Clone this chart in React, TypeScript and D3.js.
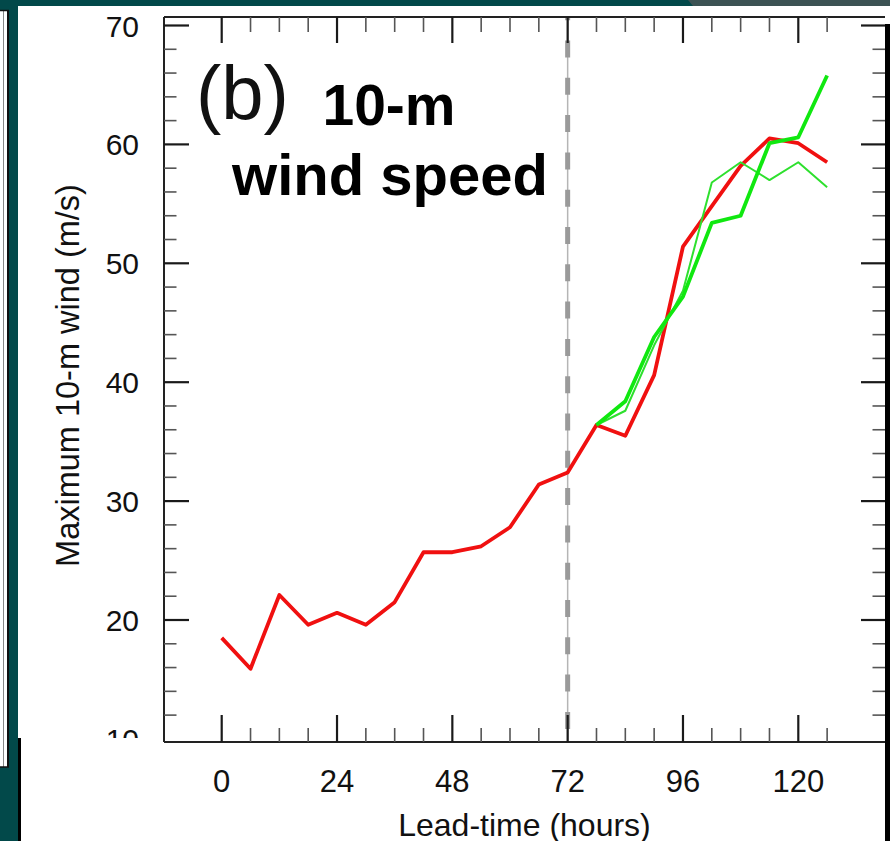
import React from "react";
import * as d3 from "d3";

// Lead time (hours) for the control (red) run
const leadHours = [0, 6, 12, 18, 24, 30, 36, 42, 48, 54, 60, 66, 72, 78, 84, 90, 96, 102, 108, 114, 120, 126];
const redValues = [18.5, 15.9, 22.1, 19.6, 20.6, 19.6, 21.5, 25.7, 25.7, 26.2, 27.8, 31.4, 32.4, 36.4, 35.5, 40.6, 51.4, 54.8, 58.2, 60.5, 60.1, 58.5];

// Green experiments start at 78 h
const greenHours = [78, 84, 90, 96, 102, 108, 114, 120, 126];
const greenThick = [36.4, 38.4, 43.8, 47.2, 53.4, 54.0, 60.1, 60.6, 65.8];
const greenThin = [36.4, 37.6, 43.1, 47.7, 56.8, 58.5, 57.0, 58.5, 56.4];

const xTickLabels = [0, 24, 48, 72, 96, 120];
const yTickLabels = [10, 20, 30, 40, 50, 60, 70];
const splitHour = 72;

const FONT = "'Liberation Sans', Arial, Helvetica, sans-serif";

export default function App() {
  const W = 890;
  const H = 841;
  const left = 164;
  const right = 885;
  const top = 17;
  const bottom = 742;

  const x = d3.scaleLinear().domain([0, 120]).range([221.7, 798.3]);
  const y = d3.scaleLinear().domain([20, 70]).range([620, 25.5]);

  const xMinor = d3.range(0, 127, 6).filter((h) => h % 24 !== 0);
  const yMinor = d3.range(12, 70, 2).filter((v) => v % 10 !== 0);
  const yMajor = yTickLabels.filter((v) => v > 10);

  const line = d3
    .line<[number, number]>()
    .x((d) => x(d[0]))
    .y((d) => y(d[1]));

  const redPath = line(leadHours.map((h, i) => [h, redValues[i]]))!;
  const thickPath = line(greenHours.map((h, i) => [h, greenThick[i]]))!;
  const thinPath = line(greenHours.map((h, i) => [h, greenThin[i]]))!;

  const teal = "#02494a";
  const tickColor = "#1a1a1a";
  const minorColor = "#555";

  return (
    <svg
      width={W}
      height={H}
      style={{ position: "fixed", left: 0, top: 0, display: "block" }}
      fontFamily={FONT}
    >
      {/* slide background */}
      <rect x={0} y={0} width={W} height={H} fill={teal} />
      <polygon points="688,0 890,0 890,6 693,6" fill="#3c5354" />
      {/* neighbouring panel edge on the left */}
      <rect x={0} y={10} width={8} height={757} fill="#fff" />
      <line x1={3.5} y1={10} x2={3.5} y2={767} stroke="#888" strokeWidth={1} />
      <line x1={8} y1={10} x2={8} y2={767} stroke="#111" strokeWidth={2} />
      <line x1={0} y1={10.5} x2={9} y2={10.5} stroke="#111" strokeWidth={1.5} />
      <line x1={0} y1={767} x2={9} y2={767} stroke="#111" strokeWidth={1.5} />
      {/* main white panel */}
      <rect x={18} y={6} width={W - 18} height={H - 6} fill="#fff" />

      {/* y-axis tick labels */}
      {yTickLabels.map((v) => (
        <text key={"yl" + v} x={139} y={y(v) + 11} fontSize={30} textAnchor="end" fill="#111">
          {v}
        </text>
      ))}
      {/* lower overlay that clips the "10" label */}
      <rect x={21} y={738} width={140} height={H - 738} fill="#fff" />
      <rect x={18} y={738} width={3} height={H - 738} fill="#000" />

      {/* split line at 72 h */}
      <line x1={x(splitHour)} y1={top} x2={x(splitHour)} y2={bottom} stroke="#b5b5b5" strokeWidth={1.5} />
      <line
        x1={x(splitHour)}
        y1={top}
        x2={x(splitHour)}
        y2={bottom}
        stroke="#9a9a9a"
        strokeWidth={5}
        strokeDasharray="17 20.3"
        strokeDashoffset={13.8}
      />

      {/* frame */}
      <line x1={left} y1={top} x2={right} y2={top} stroke="#222" strokeWidth={2} />
      <line x1={left} y1={top} x2={left} y2={bottom} stroke="#222" strokeWidth={2} />
      <line x1={left} y1={bottom} x2={right} y2={bottom} stroke="#222" strokeWidth={2} />

      {/* x ticks (bottom and top) */}
      {xTickLabels.map((h) => (
        <g key={"xM" + h}>
          <line x1={x(h)} y1={bottom} x2={x(h)} y2={bottom - 27} stroke={tickColor} strokeWidth={2.2} />
          <line x1={x(h)} y1={top} x2={x(h)} y2={top + 26} stroke={tickColor} strokeWidth={2.2} />
        </g>
      ))}
      {xMinor.map((h) => (
        <g key={"xm" + h}>
          <line x1={x(h)} y1={bottom} x2={x(h)} y2={bottom - 14} stroke={minorColor} strokeWidth={1.6} />
          <line x1={x(h)} y1={top} x2={x(h)} y2={top + 15} stroke={minorColor} strokeWidth={1.6} />
        </g>
      ))}

      {/* y ticks (left and right) */}
      {yMajor.map((v) => (
        <g key={"yM" + v}>
          <line x1={left} y1={y(v)} x2={left + 25} y2={y(v)} stroke={tickColor} strokeWidth={2.2} />
          <line x1={right} y1={y(v)} x2={right - 24} y2={y(v)} stroke={tickColor} strokeWidth={2.2} />
        </g>
      ))}
      {yMinor.map((v) => (
        <g key={"ym" + v}>
          <line x1={left} y1={y(v)} x2={left + 12.5} y2={y(v)} stroke={minorColor} strokeWidth={1.6} />
          <line x1={right} y1={y(v)} x2={right - 12.5} y2={y(v)} stroke={minorColor} strokeWidth={1.6} />
        </g>
      ))}

      {/* x tick labels */}
      {xTickLabels.map((h) => (
        <text key={"xl" + h} x={x(h)} y={792} fontSize={31} textAnchor="middle" fill="#111">
          {h}
        </text>
      ))}

      {/* axis titles */}
      <text x={(left + right) / 2} y={836} fontSize={32} textAnchor="middle" fill="#111">
        Lead-time (hours)
      </text>
      <text
        transform={`translate(79, ${(top + bottom) / 2 - 4}) rotate(-90)`}
        fontSize={32.5}
        textAnchor="middle"
        fill="#111"
      >
        Maximum 10-m wind (m/s)
      </text>

      {/* data lines */}
      <path d={redPath} fill="none" stroke="#f01010" strokeWidth={3.8} strokeLinejoin="round" />
      <path d={thinPath} fill="none" stroke="#2ee02e" strokeWidth={2} strokeLinejoin="round" />
      <path d={thickPath} fill="none" stroke="#10e810" strokeWidth={3.8} strokeLinejoin="round" />

      {/* panel annotation */}
      <text x={196} y={119} fontSize={76} fill="#111">
        (b)
      </text>
      <text x={389} y={125} fontSize={57} fontWeight="bold" textAnchor="middle" fill="#000">
        10-m
      </text>
      <text x={390} y={195} fontSize={58} fontWeight="bold" textAnchor="middle" fill="#000">
        wind speed
      </text>

      {/* right black border of the picture */}
      <rect x={885} y={24} width={5} height={H - 24} fill="#000" />
    </svg>
  );
}
